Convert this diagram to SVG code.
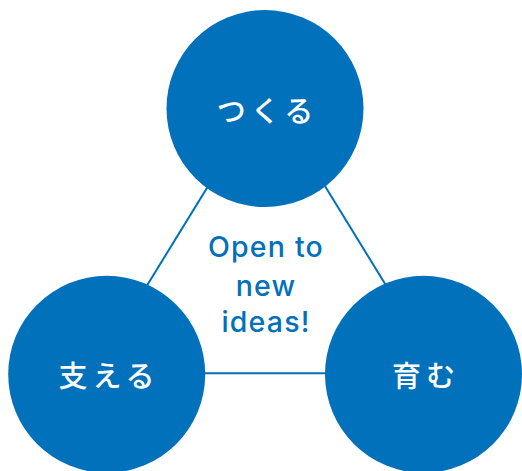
<svg xmlns="http://www.w3.org/2000/svg" width="522" height="471" viewBox="0 0 522 471">
  <style>
    .node { fill: #0071BA; }
    .jp { font-family: "Noto Sans CJK JP", "Noto Sans", sans-serif; font-size: 29px; font-weight: 500; fill: #FFFFFF; text-anchor: middle; letter-spacing: 5px; }
    .conn { stroke: #0071BA; stroke-width: 2; fill: none; }
    .center { font-family: Inter, "Liberation Sans", sans-serif; font-size: 28.5px; font-weight: 500; fill: #0071BA; text-anchor: middle; letter-spacing: 1.2px; }
  </style>
  <rect width="522" height="471" fill="#FFFFFF"/>
  <g id="connectors">
    <line class="conn" x1="266.6" y1="91" x2="93" y2="373.3"/>
    <line class="conn" x1="266.6" y1="91" x2="440" y2="373.3"/>
    <line class="conn" x1="93" y1="373.3" x2="440" y2="373.3"/>
  </g>
  <g id="center-label">
    <text class="center" x="266" y="257">Open to</text>
    <text class="center" x="266" y="296">new</text>
    <text class="center" x="266" y="332">ideas!</text>
  </g>
  <g id="node-tsukuru">
    <circle class="node" cx="265" cy="108.5" r="98.5"/>
    <text class="jp" x="267.5" y="121.5">つくる</text>
  </g>
  <g id="node-sasaeru">
    <circle class="node" cx="106.7" cy="374.3" r="98.5"/>
    <text class="jp" x="109" y="386.5">支える</text>
  </g>
  <g id="node-hagukumu">
    <circle class="node" cx="423.5" cy="374.3" r="98.5"/>
    <text class="jp" x="426" y="386.5">育む</text>
  </g>
</svg>
